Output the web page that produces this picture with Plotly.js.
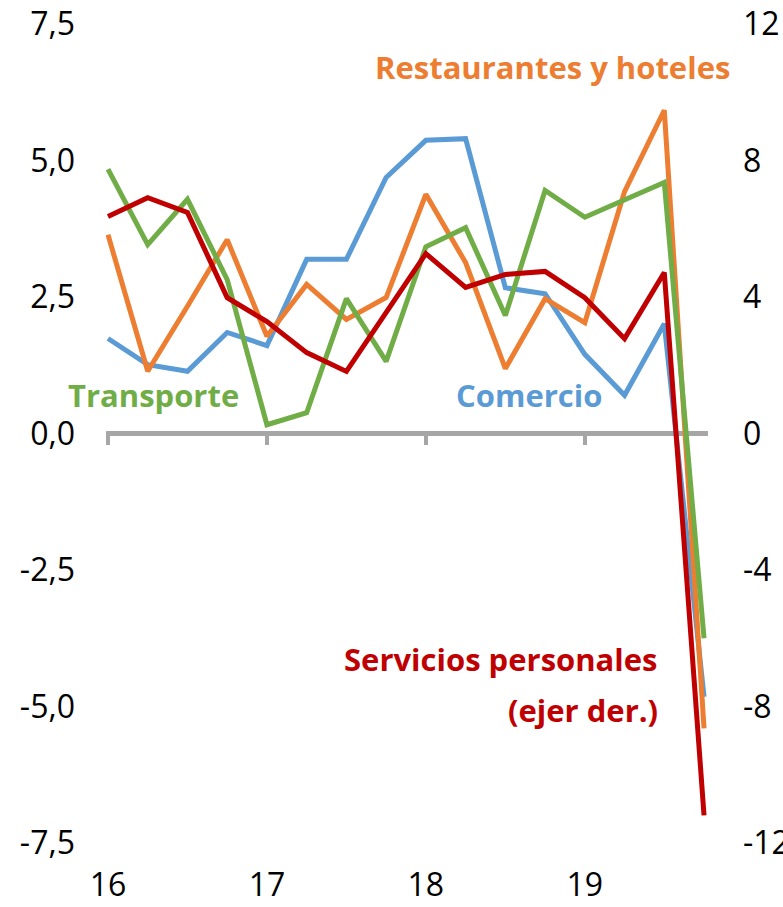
<!DOCTYPE html>
<html>
<head>
<meta charset="utf-8">
<script src="https://cdn.plot.ly/plotly-3.0.1.min.js"></script>
<style>
html,body{margin:0;padding:0;background:#fff;}
#chart{width:783px;height:907px;}
</style>
</head>
<body>
<div id="chart"></div>
<script>
// Quarterly categories 2016Q1 .. 2019Q4
const quarters = ['16-T1','16-T2','16-T3','16-T4','17-T1','17-T2','17-T3','17-T4',
                  '18-T1','18-T2','18-T3','18-T4','19-T1','19-T2','19-T3','19-T4'];
const yearTickLabels = ['16','17','18','19'];
const yearTickIdx = [0, 4, 8, 12];

// Axis tick labels (hyphen minus, comma decimals as in the original)
const leftTickVals = [-7.5, -5, -2.5, 0, 2.5, 5, 7.5];
const leftTickText = ['-7,5', '-5,0', '-2,5', '0,0', '2,5', '5,0', '7,5'];
const rightTickVals = [-12, -8, -4, 0, 4, 8, 12];
const rightTickText = ['-12', '-8', '-4', '0', '4', '8', '12'];

// Left axis series
const comercio = [1.74, 1.26, 1.14, 1.85, 1.61, 3.19, 3.19, 4.69, 5.37, 5.40, 2.67, 2.56, 1.45, 0.70, 2.01, -4.82];
const restaurantes = [3.64, 1.14, 2.33, 3.55, 1.78, 2.73, 2.09, 2.49, 4.38, 3.13, 1.19, 2.47, 2.03, 4.43, 5.92, -5.40];
const transporte = [4.84, 3.46, 4.29, 2.82, 0.16, 0.38, 2.47, 1.32, 3.42, 3.77, 2.16, 4.45, 3.96, 4.29, 4.60, -3.75];
// Right axis series
const serviciosPersonales = [6.36, 6.91, 6.48, 3.98, 3.28, 2.37, 1.82, 3.55, 5.27, 4.28, 4.66, 4.75, 3.98, 2.78, 4.72, -11.19];

const xIdx = quarters.map((q, i) => i);

const FONT = '"Open Sans", "Noto Sans", sans-serif';
const LW = 5;

const traces = [
  {x: xIdx, y: comercio, name: 'Comercio', type: 'scatter', mode: 'lines',
   line: {color: '#5B9BD5', width: LW}, xaxis: 'x', yaxis: 'y'},
  {x: xIdx, y: restaurantes, name: 'Restaurantes y hoteles', type: 'scatter', mode: 'lines',
   line: {color: '#ED7D31', width: LW}, xaxis: 'x', yaxis: 'y'},
  {x: xIdx, y: transporte, name: 'Transporte', type: 'scatter', mode: 'lines',
   line: {color: '#70AD47', width: LW}, xaxis: 'x', yaxis: 'y'},
  {x: xIdx, y: serviciosPersonales, name: 'Servicios personales', type: 'scatter', mode: 'lines',
   line: {color: '#C00000', width: LW}, xaxis: 'x2', yaxis: 'y2'}
];

const xr = [-0.05, 15.1];

const layout = {
  width: 783, height: 907,
  margin: {l: 106, r: 75, t: 24, b: 63.5, pad: 0},
  paper_bgcolor: '#ffffff', plot_bgcolor: '#ffffff',
  showlegend: false,
  font: {family: FONT, size: 32, color: '#000000'},
  xaxis: {
    range: xr, tickvals: yearTickIdx, ticktext: yearTickLabels,
    showgrid: false, zeroline: false, showline: false, ticks: '',
    tickfont: {family: FONT, size: 32, color: '#000000'},
    ticklabelstandoff: 20, fixedrange: true
  },
  xaxis2: {
    overlaying: 'x', anchor: 'free', position: 0.5, side: 'bottom',
    range: xr, tickvals: yearTickIdx, showticklabels: false,
    showgrid: false, zeroline: false, showline: false,
    ticks: 'outside', ticklen: 10, tickwidth: 4.5, tickcolor: '#A6A6A6',
    layer: 'below traces', fixedrange: true
  },
  yaxis: {
    range: [-7.5, 7.5], tickvals: leftTickVals, ticktext: leftTickText,
    showgrid: false, zeroline: true, zerolinecolor: '#A6A6A6', zerolinewidth: 4.5,
    showline: false, ticks: '',
    tickfont: {family: FONT, size: 32, color: '#000000'},
    ticklabelstandoff: 30, fixedrange: true
  },
  yaxis2: {
    overlaying: 'y', side: 'right', anchor: 'x2',
    range: [-12, 12], tickvals: rightTickVals, ticktext: rightTickText,
    showgrid: false, zeroline: false, showline: false, ticks: '',
    tickfont: {family: FONT, size: 32, color: '#000000'},
    ticklabelstandoff: 34, fixedrange: true
  },
  annotations: [
    {text: '<b>Restaurantes y hoteles</b>', xref: 'paper', yref: 'paper',
     x: 1.04, y: 0.947, xanchor: 'right', yanchor: 'middle', showarrow: false,
     font: {family: FONT, size: 31, color: '#ED7D31'}},
    {text: '<b>Transporte</b>', xref: 'paper', yref: 'paper',
     x: 0.0797, y: 0.5464, xanchor: 'center', yanchor: 'middle', showarrow: false,
     font: {family: FONT, size: 31, color: '#70AD47'}},
    {text: '<b>Comercio</b>', xref: 'paper', yref: 'paper',
     x: 0.7027, y: 0.5464, xanchor: 'center', yanchor: 'middle', showarrow: false,
     font: {family: FONT, size: 31, color: '#5B9BD5'}},
    {text: '<b>Servicios personales</b>', xref: 'paper', yref: 'paper',
     x: 0.920, y: 0.2252, xanchor: 'right', yanchor: 'middle', showarrow: false,
     font: {family: FONT, size: 31, color: '#C00000'}},
    {text: '<b>(ejer der.)</b>', xref: 'paper', yref: 'paper',
     x: 0.920, y: 0.1630, xanchor: 'right', yanchor: 'middle', showarrow: false,
     font: {family: FONT, size: 31, color: '#C00000'}}
  ]
};

Plotly.newPlot('chart', traces, layout, {displayModeBar: false, staticPlot: true});
</script>
</body>
</html>
